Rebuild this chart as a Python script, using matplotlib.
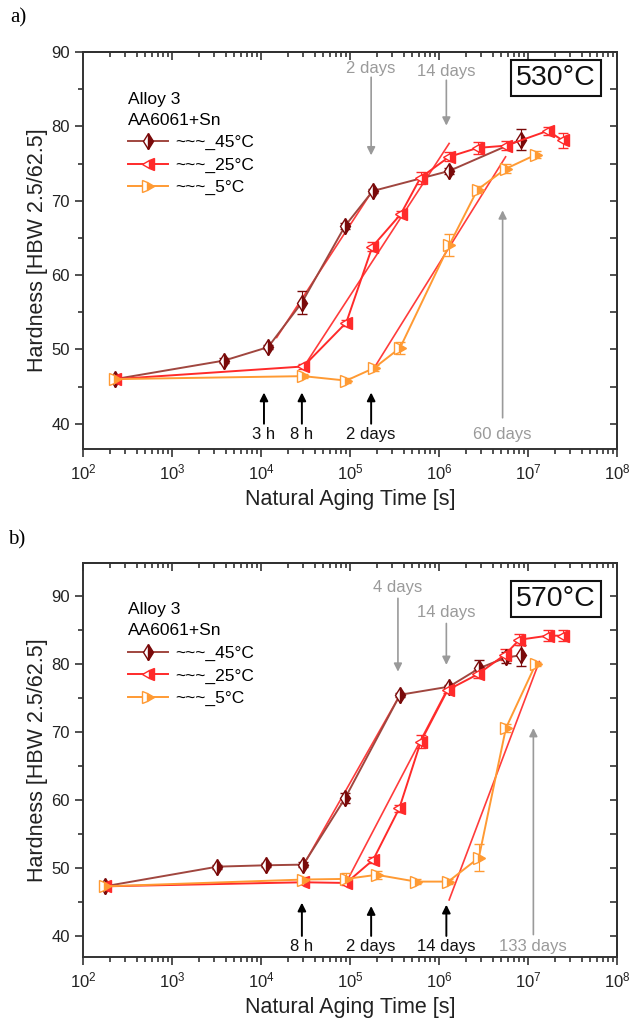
import matplotlib
matplotlib.use('Agg')
import matplotlib.pyplot as plt
from matplotlib.lines import Line2D
from matplotlib.ticker import LogLocator, MultipleLocator, NullFormatter

plt.rcParams['font.family'] = ['Liberation Sans', 'DejaVu Sans']
plt.rcParams['mathtext.fontset'] = 'custom'
plt.rcParams['mathtext.rm'] = 'Liberation Sans'
plt.rcParams['mathtext.it'] = 'Liberation Sans:italic'

# ---------------- data: panel a (530 °C) ----------------
a45_t = [229, 3870, 12000, 28800, 88000, 180000, 1.30e6, 8.3e6]
a45_h = [46.0, 48.5, 50.3, 56.3, 66.6, 71.3, 74.0, 78.2]
a45_e = [0.4, 0.3, 0.3, 1.5, 0.4, 0.3, 0.4, 1.4]

a25_t = [229, 29900, 90800, 178000, 372000, 6.2e5, 1.3e6, 2.71e6, 5.65e6, 1.67e7, 2.46e7]
a25_h = [46.0, 47.7, 53.6, 63.8, 68.2, 73.1, 75.9, 77.1, 77.4, 79.4, 78.1]
a25_e = [0.5, 0.4, 0.4, 0.6, 0.4, 0.8, 0.6, 0.8, 0.6, 0.5, 1.0]

a5_t = [229, 29900, 90800, 187000, 365000, 1.3e6, 2.71e6, 5.65e6, 1.23e7]
a5_h = [46.0, 46.4, 45.8, 47.5, 50.2, 64.0, 71.5, 74.3, 76.2]
a5_e = [0.5, 0.3, 0.3, 0.4, 0.8, 1.5, 0.5, 0.6, 0.5]

a_fit_t = [[1.5e4, 1.8e5], [3.0e4, 1.3e6], [1.8e5, 5.6e6]]
a_fit_h = [[51.6, 71.4], [47.6, 77.7], [47.2, 75.9]]

# ---------------- data: panel b (570 °C) ----------------
b45_t = [175, 3240, 11300, 29900, 88300, 365000, 1.3e6, 2.83e6, 5.65e6, 8.3e6]
b45_h = [47.3, 50.2, 50.4, 50.5, 60.3, 75.5, 76.7, 79.4, 81.0, 81.3]
b45_e = [0.3, 0.3, 0.3, 0.4, 0.8, 0.3, 0.3, 1.2, 0.8, 1.5]

b25_t = [175, 29900, 90800, 182000, 358000, 6.24e5, 1.25e6, 2.71e6, 5.51e6, 7.98e6, 1.67e7, 2.46e7]
b25_h = [47.3, 47.9, 47.8, 51.2, 58.8, 68.6, 76.2, 78.5, 81.4, 83.6, 84.2, 84.2]
b25_e = [0.3, 0.3, 0.3, 0.4, 0.5, 1.0, 0.5, 0.6, 0.8, 0.8, 0.8, 0.8]

b5_t = [175, 29900, 90800, 200000, 5.5e5, 1.27e6, 2.8e6, 5.65e6, 1.23e7]
b5_h = [47.3, 48.3, 48.4, 49.0, 48.0, 48.0, 51.5, 70.6, 80.1]
b5_e = [0.3, 0.4, 0.8, 0.6, 0.4, 0.4, 2.0, 0.6, 0.3]

b_fit_t = [[2.99e4, 3.65e5], [9.0e4, 1.25e6], [1.3e6, 1.34e7]]
b_fit_h = [[50.4, 75.5], [47.8, 76.4], [45.3, 80.4]]

# annotation arrows
a_black = [(10800, '3 h', 44.2), (28800, '8 h', 44.2), (172800, '2 days', 44.2)]
a_gray_top = [(172800, '2 days', 86.6, 76.1, 87.8), (1209600, '14 days', 86.2, 80.1, 87.4)]
a_gray_bottom = [(5184000, '60 days', 40.8, 68.7)]

b_black = [(28800, '8 h', 44.9), (172800, '2 days', 44.4), (1209600, '14 days', 44.6)]
b_gray_top = [(345600, '4 days', 89.7, 78.9, 91.3), (1209600, '14 days', 86.0, 79.9, 87.6)]
b_gray_bottom = [(11491200, '133 days', 40.2, 70.6)]

labels = ['~~~_45°C', '~~~_25°C', '~~~_5°C']

C45_LINE = '#a0463f'
C45_MK = '#7a0a0a'
C25 = '#ff2a2a'
C5 = '#ff9a33'
FIT = '#ff3b3b'
GRAY = '#9a9a9a'

W, H = 632, 1021
fig = plt.figure(figsize=(W / 100, H / 100), dpi=100)


def px_axes(left, right, top, bottom):
    return fig.add_axes([left / W, 1 - bottom / H, (right - left) / W, (bottom - top) / H])


MK = dict(ms=8.5, mew=1.0, markerfacecoloralt='white', fillstyle='right')


def draw_series(ax, t, h, e, line_c, mk_c, marker):
    ax.errorbar(t, h, yerr=e, color=line_c, ecolor=mk_c, elinewidth=0.8, capsize=3.5,
                capthick=0.8, lw=1.4, marker=marker, mec=mk_c, mfc=mk_c, zorder=3, **MK)


def style_axes(ax, ylim):
    ax.set_xscale('log')
    ax.set_xlim(1e2, 1e8)
    ax.set_ylim(*ylim)
    ax.yaxis.set_major_locator(MultipleLocator(10))
    ax.yaxis.set_minor_locator(MultipleLocator(5))
    ax.xaxis.set_major_locator(LogLocator(base=10, numticks=10))
    ax.xaxis.set_minor_locator(LogLocator(base=10, subs=range(2, 10), numticks=20))
    ax.xaxis.set_minor_formatter(NullFormatter())
    ax.tick_params(which='both', direction='out', top=False, right=False, color='#333333',
                   width=1.2, labelsize=12, labelcolor='#222222')
    ax.tick_params(which='major', length=6)
    ax.tick_params(which='minor', length=3.5)
    for s in ax.spines.values():
        s.set_linewidth(1.4)
        s.set_color('#333333')
    sx = ax.secondary_xaxis('top')
    sx.set_xscale('log')
    sx.xaxis.set_major_locator(LogLocator(base=10, numticks=10))
    sx.xaxis.set_minor_locator(LogLocator(base=10, subs=range(2, 10), numticks=20))
    sx.xaxis.set_major_formatter(NullFormatter())
    sx.xaxis.set_minor_formatter(NullFormatter())
    sx.tick_params(which='both', direction='in', color='#333333', width=1.2)
    sx.tick_params(which='major', length=6)
    sx.tick_params(which='minor', length=3.5)
    sx.spines['top'].set_linewidth(1.4)
    sy = ax.secondary_yaxis('right')
    sy.yaxis.set_major_locator(MultipleLocator(10))
    sy.yaxis.set_minor_locator(MultipleLocator(5))
    sy.yaxis.set_major_formatter(NullFormatter())
    sy.tick_params(which='both', direction='in', color='#333333', width=1.2, length=5)
    sy.spines['right'].set_linewidth(1.4)
    ax.set_xlabel('Natural Aging Time [s]', fontsize=15.5, color='#222222', labelpad=5)
    ax.set_ylabel('Hardness [HBW 2.5/62.5]', fontsize=15.5, color='#222222', labelpad=2)


def arrow(ax, x, y0, y1, color, lw):
    ax.annotate('', xy=(x, y1), xytext=(x, y0),
                arrowprops=dict(arrowstyle='-|>', color=color, lw=lw, mutation_scale=12,
                                shrinkA=0, shrinkB=0), zorder=2)


def panel(ax, ylim, s45, s25, s5, fits_t, fits_h, black, gray_top, gray_bottom, box, box_y,
          text_y, black_tail, leg_y):
    style_axes(ax, ylim)
    for ft, fh in zip(fits_t, fits_h):
        ax.plot(ft, fh, color=FIT, lw=1.2, zorder=2)
    draw_series(ax, *s45, C45_LINE, C45_MK, 'd')
    draw_series(ax, *s25, C25, C25, '<')
    draw_series(ax, *s5, C5, C5, '>')
    for t, lab, head in black:
        arrow(ax, t, black_tail, head, 'black', 1.4)
        ax.text(t, text_y, lab, ha='center', va='center', fontsize=12, color='#111111')
    for t, lab, y0, y1, ty in gray_top:
        arrow(ax, t, y0, y1, GRAY, 1.2)
        ax.text(t, ty, lab, ha='center', va='center', fontsize=12, color=GRAY)
    for t, lab, y0, y1 in gray_bottom:
        arrow(ax, t, y0, y1, GRAY, 1.2)
        ax.text(t, text_y, lab, ha='center', va='center', fontsize=12, color=GRAY)
    ax.text(0.885, box_y, box, transform=ax.transAxes, ha='center', va='center', fontsize=20.5,
            color='#111111',
            bbox=dict(boxstyle='square,pad=0.18', fc='white', ec='#111111', lw=1.5))
    handles = [
        Line2D([], [], color=C45_LINE, lw=1.4, marker='d', mec=C45_MK, mfc=C45_MK, **MK),
        Line2D([], [], color=C25, lw=1.4, marker='<', mec=C25, mfc=C25, **MK),
        Line2D([], [], color=C5, lw=1.4, marker='>', mec=C5, mfc=C5, **MK),
    ]
    leg = ax.legend(handles, labels, loc='upper left', bbox_to_anchor=(0.085, leg_y),
                    frameon=False, fontsize=12.5, title='Alloy 3\nAA6061+Sn',
                    title_fontsize=12.5, alignment='left', handlelength=2.3,
                    handletextpad=0.4, labelspacing=0.42, borderaxespad=0, borderpad=0)
    leg.get_title().set_linespacing(1.5)
    leg._legend_box.align = 'left'


ax_a = px_axes(83, 617, 52, 449)
panel(ax_a, (36.6, 90), (a45_t, a45_h, a45_e), (a25_t, a25_h, a25_e), (a5_t, a5_h, a5_e),
      a_fit_t, a_fit_h, a_black, a_gray_top, a_gray_bottom, '530°C', 0.934, 38.6, 40.0, 0.9)

ax_b = px_axes(83, 617, 563, 957)
panel(ax_b, (36.9, 94.9), (b45_t, b45_h, b45_e), (b25_t, b25_h, b25_e), (b5_t, b5_h, b5_e),
      b_fit_t, b_fit_h, b_black, b_gray_top, b_gray_bottom, '570°C', 0.909, 38.5, 40.0, 0.9)

fig.text(18 / W, 1 - 18 / H, 'a)', fontsize=15, family=['Liberation Serif', 'DejaVu Serif'],
         ha='center', va='center')
fig.text(17 / W, 1 - 540 / H, 'b)', fontsize=15, family=['Liberation Serif', 'DejaVu Serif'],
         ha='center', va='center')

fig.savefig('out.png', dpi=100)
